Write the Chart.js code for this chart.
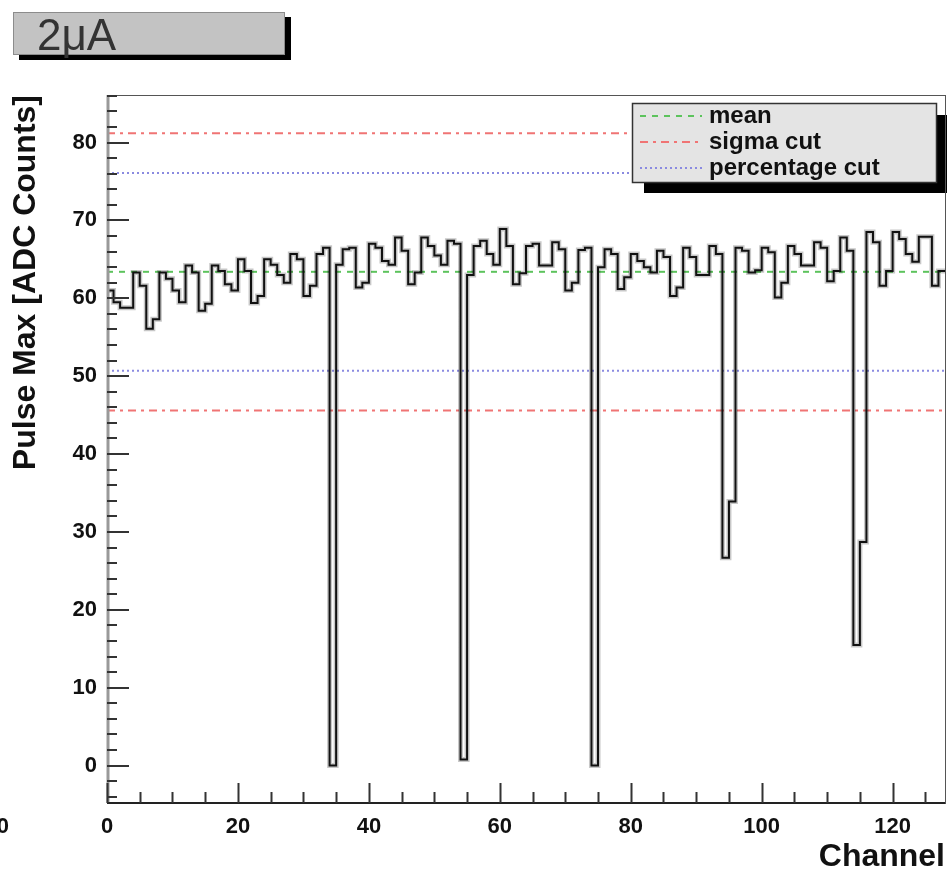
<!DOCTYPE html>
<html>
<head>
<meta charset="utf-8">
<script src="https://cdn.jsdelivr.net/npm/chart.js@4.4.0/dist/chart.umd.min.js"></script>
<style>
  html, body { margin: 0; padding: 0; background: #fff; }
  #wrap { width: 947px; height: 872px; }
</style>
</head>
<body>
<div id="wrap"><canvas id="myChart" width="947" height="872"></canvas></div>
<script>
// pulse maximum per channel (bin i covers channel i .. i+1)
const pulseMax = [
  61.0, 59.5, 58.8, 58.8, 63.3, 61.6, 56.1, 57.3, 63.3, 62.5,
  61.0, 59.5, 64.2, 63.3, 58.4, 59.3, 64.2, 63.5, 61.8, 61.0,
  65.0, 63.5, 59.4, 60.3, 65.0, 64.3, 63.0, 62.0, 65.7, 65.0,
  60.3, 61.6, 65.7, 66.5, 0.0, 64.3, 66.3, 66.5, 61.4, 62.0,
  67.0, 66.5, 64.8, 64.3, 67.8, 66.1, 61.8, 63.3, 67.8, 66.7,
  65.5, 64.3, 67.4, 67.0, 0.8, 63.0, 66.7, 67.4, 65.7, 64.3,
  68.9, 66.7, 61.8, 63.2, 66.7, 67.0, 64.2, 64.2, 67.2, 66.3,
  61.0, 62.0, 66.2, 66.5, 0.0, 64.0, 66.3, 65.7, 61.2, 62.7,
  65.7, 64.8, 64.0, 63.3, 66.1, 65.3, 60.3, 61.4, 66.5, 65.3,
  63.0, 63.0, 66.7, 65.7, 26.7, 33.9, 66.5, 66.1, 63.3, 63.6,
  66.5, 65.9, 60.1, 62.0, 66.7, 65.7, 64.2, 64.2, 67.2, 66.5,
  62.2, 63.5, 67.8, 66.1, 15.5, 28.7, 68.5, 67.2, 61.6, 63.5,
  68.5, 67.6, 65.7, 64.7, 67.9, 67.9, 61.6, 63.5
];
const meanLevel = 63.4;
const sigmaCut = [45.6, 81.2];
const percentCut = [50.7, 76.1];

const xTicks = [0, 20, 40, 60, 80, 100, 120];
const yTicks = [0, 10, 20, 30, 40, 50, 60, 70, 80];
const legendLabels = ["mean", "sigma cut", "percentage cut"];

const xMax = pulseMax.length;
const FONT = '"Liberation Sans", Arial, sans-serif';

const meanStyle = { color: "#5cc35c", dash: [6, 6] };
const sigmaStyle = { color: "#f07474", dash: [8, 5, 3, 5] };
const percentStyle = { color: "#8a8ae0", dash: [2, 3] };

// histogram outline as left-edge points plus the closing edge
const histPoints = pulseMax.map((v, i) => ({ x: i, y: v }));
histPoints.push({ x: xMax, y: pulseMax[xMax - 1] });

function level(value, style, label) {
  return {
    label: label,
    data: [{ x: 0, y: value }, { x: xMax, y: value }],
    borderColor: style.color,
    borderDash: style.dash,
    borderWidth: 2,
    pointRadius: 0,
    fill: false
  };
}

const rootFrame = {
  id: "rootFrame",
  beforeDraw(chart) {
    const c = chart.ctx;
    c.save();
    c.fillStyle = "#fff";
    c.fillRect(0, 0, chart.width, chart.height);

    // pad title box with drop shadow
    c.fillStyle = "#000";
    c.fillRect(19, 17, 272, 43);
    c.fillStyle = "#c3c3c3";
    c.fillRect(13, 12, 272, 43);
    c.strokeStyle = "#8c8c8c";
    c.lineWidth = 1;
    c.strokeRect(13.5, 12.5, 271, 42);
    c.fillStyle = "#333";
    c.font = "44px " + FONT;
    c.textBaseline = "alphabetic";
    c.fillText("2\u03bcA", 37, 50);

    // edge of the neighbouring pad's axis label
    c.font = "bold 22px " + FONT;
    c.textAlign = "right";
    c.textBaseline = "middle";
    c.fillStyle = "#111";
    c.fillText("100", 9, 827);
    c.restore();
  },
  afterDatasetsDraw(chart) {
    const { ctx: c, chartArea: a, scales: { x, y } } = chart;
    c.save();

    // legend box
    c.fillStyle = "#000";
    c.fillRect(644, 115, 303, 78);
    c.fillStyle = "#e4e4e4";
    c.fillRect(632, 103, 305, 80);
    c.strokeStyle = "#333";
    c.lineWidth = 1.5;
    c.strokeRect(632.5, 103.5, 304, 79);
    const styles = [meanStyle, sigmaStyle, percentStyle];
    c.font = "bold 24px " + FONT;
    c.textBaseline = "middle";
    c.textAlign = "left";
    legendLabels.forEach((txt, i) => {
      const ly = 116 + i * 26;
      c.strokeStyle = styles[i].color;
      c.setLineDash(styles[i].dash);
      c.lineWidth = 2;
      c.beginPath();
      c.moveTo(640, ly);
      c.lineTo(702, ly);
      c.stroke();
      c.setLineDash([]);
      c.fillStyle = "#111";
      c.fillText(txt, 709, ly);
    });

    // frame
    c.strokeStyle = "#555";
    c.lineWidth = 1;
    c.strokeRect(a.left + 0.5, a.top + 0.5, a.right - a.left, a.bottom - a.top);
    c.strokeStyle = "#999";
    c.lineWidth = 3;
    c.beginPath();
    c.moveTo(a.left + 1, a.top);
    c.lineTo(a.left + 1, a.bottom);
    c.stroke();
    c.strokeStyle = "#222";
    c.lineWidth = 2;
    c.beginPath();
    c.moveTo(a.left, a.bottom);
    c.lineTo(a.right, a.bottom);
    c.stroke();

    // inward ticks
    c.strokeStyle = "#333";
    c.lineWidth = 2;
    c.beginPath();
    for (let v = -4; v <= y.max; v += 2) {
      const py = Math.round(y.getPixelForValue(v));
      const len = v % 10 === 0 ? 22 : 10;
      c.moveTo(a.left, py);
      c.lineTo(a.left + len, py);
    }
    for (let v = 0; v <= x.max; v += 5) {
      const px = Math.round(x.getPixelForValue(v)) + 0.5;
      const len = v % 20 === 0 ? 20 : 11;
      c.moveTo(px, a.bottom);
      c.lineTo(px, a.bottom - len);
    }
    c.stroke();
    c.restore();
  }
};

const ctx = document.getElementById("myChart");

new Chart(ctx, {
  type: "line",
  data: {
    datasets: [
      {
        label: "Pulse Max",
        data: histPoints,
        stepped: true,
        borderColor: "#111",
        borderWidth: 2,
        pointRadius: 0,
        fill: false
      },
      {
        label: "halo",
        data: histPoints,
        stepped: true,
        borderColor: "rgba(0,0,0,0.22)",
        borderWidth: 5,
        pointRadius: 0,
        fill: false
      },
      level(meanLevel, meanStyle, "mean"),
      level(sigmaCut[0], sigmaStyle, "sigma cut"),
      level(sigmaCut[1], sigmaStyle, "sigma cut"),
      level(percentCut[0], percentStyle, "percentage cut"),
      level(percentCut[1], percentStyle, "percentage cut")
    ]
  },
  options: {
    responsive: false,
    animation: false,
    events: [],
    layout: { padding: { top: 95, right: 2, left: 0, bottom: 0 } },
    plugins: { legend: { display: false }, tooltip: { enabled: false } },
    scales: {
      x: {
        type: "linear",
        min: 0,
        max: xMax,
        grid: { display: false, drawTicks: false },
        border: { display: false },
        afterBuildTicks: (s) => { s.ticks = xTicks.map((v) => ({ value: v })); },
        afterFit: (s) => { s.height = 69; },
        ticks: {
          color: "#111",
          padding: 11,
          maxRotation: 0,
          autoSkip: false,
          font: { family: FONT, size: 22, weight: "bold" }
        },
        title: {
          display: true,
          text: "Channel",
          align: "end",
          color: "#111",
          padding: 0,
          font: { family: FONT, size: 32, weight: "bold", lineHeight: 0.9 }
        }
      },
      y: {
        min: -4.8,
        max: 86.1,
        grid: { display: false, drawTicks: false },
        border: { display: false },
        afterBuildTicks: (s) => { s.ticks = yTicks.map((v) => ({ value: v })); },
        afterFit: (s) => { s.width = 107; },
        ticks: {
          color: "#111",
          padding: 10,
          autoSkip: false,
          font: { family: FONT, size: 22, weight: "bold" }
        },
        title: {
          display: true,
          text: "Pulse Max [ADC Counts]",
          align: "end",
          color: "#111",
          padding: { top: 12, bottom: 0 },
          font: { family: FONT, size: 32, weight: "bold", lineHeight: 0.9 }
        }
      }
    }
  },
  plugins: [rootFrame]
});
</script>
</body>
</html>
